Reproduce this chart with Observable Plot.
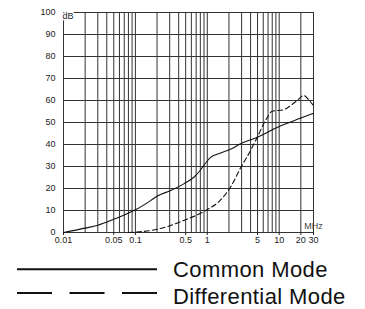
<!DOCTYPE html>
<html>
<head>
<meta charset="utf-8">
<script src="https://cdn.jsdelivr.net/npm/d3@7"></script>
<script src="https://cdn.jsdelivr.net/npm/@observablehq/plot@0.6"></script>
<style>
  html, body { margin: 0; padding: 0; background: #fff; }
  #wrap { position: relative; width: 365px; height: 309px; overflow: hidden; }
  #chart { position: absolute; left: 0; top: 0; }
  .leg { position: absolute; left: 0; top: 255px; width: 365px; height: 54px; }
  .legtext { position: absolute; left: 173px; font-family: "Liberation Sans", Arial, sans-serif; font-size: 22px; letter-spacing: 0.4px; color: #111; white-space: nowrap; line-height: 1; }
</style>
</head>
<body>
<div id="wrap">
  <div id="chart"></div>
  <svg class="leg" width="365" height="54" viewBox="0 0 365 54">
    <line x1="17" x2="157" y1="14.3" y2="14.3" stroke="#111" stroke-width="2"></line>
    <line x1="17" x2="157" y1="38" y2="38" stroke="#111" stroke-width="2" stroke-dasharray="35,17.5"></line>
  </svg>
  <div class="legtext" id="l1" style="top:259px">Common Mode</div>
  <div class="legtext" id="l2" style="top:286px">Differential Mode</div>
</div>
<script>
// Frequencies (MHz) and attenuation (dB)
const commonFreq = [0.01, 0.02, 0.03, 0.05, 0.07, 0.1, 0.163, 0.2, 0.31, 0.47, 0.65, 0.8, 0.95, 1.1, 1.5, 2.1, 2.9, 5, 10, 20, 30];
const commonDb   = [0, 2, 3.3, 6, 8, 10.3, 14.5, 16.5, 19.1, 22.1, 25.1, 28.3, 31.6, 34, 36, 37.8, 40.3, 43.3, 48.2, 52, 54.2];

const diffFreq = [0.08, 0.1, 0.163, 0.31, 0.47, 0.95, 1.5, 2.1, 2.9, 4, 4.95, 6.45, 8, 11.6, 14.4, 17.8, 22, 25, 28.7, 30];
const diffDb   = [0, 0.2, 0.9, 3.2, 5.5, 10, 14.5, 20.6, 29.3, 37.3, 43.3, 50.9, 55.1, 55.8, 57.7, 60, 62.3, 60.8, 58.5, 57.8];

const xTickValues = [0.01, 0.05, 0.1, 0.5, 1, 5, 10, 20, 30];
const xTickLabels = ["0.01", "0.05", "0.1", "0.5", "1", "5", "10", "20", "30"];
const yTickValues = [0, 10, 20, 30, 40, 50, 60, 70, 80, 90, 100];
const gridX = [0.02, 0.03, 0.04, 0.05, 0.06, 0.07, 0.08, 0.09, 0.1,
               0.2, 0.3, 0.4, 0.5, 0.6, 0.7, 0.8, 0.9, 1,
               2, 3, 4, 5, 6, 7, 8, 9, 10, 20];
const gridY = [10, 20, 30, 40, 50, 60, 70, 80, 90];

const chart = Plot.plot({
  width: 365,
  height: 252,
  marginLeft: 63,
  marginRight: 52,
  marginTop: 12,
  marginBottom: 20,
  style: { fontFamily: "Liberation Sans, Arial, sans-serif", fontSize: "9px", color: "#222", background: "white" },
  x: { type: "log", domain: [0.01, 30] },
  y: { domain: [0, 100] },
  marks: [
    Plot.ruleX(gridX, { stroke: "#333", strokeWidth: 1 }),
    Plot.ruleY(gridY, { stroke: "#333", strokeWidth: 1 }),
    Plot.frame({ stroke: "#333", strokeWidth: 1 }),
    Plot.axisX({ ticks: xTickValues, tickSize: 3, tickFormat: () => "", label: null }),
    Plot.text(xTickValues, { x: d => d, text: (d, i) => xTickLabels[i], frameAnchor: "bottom", lineAnchor: "top", dy: 4, fill: "#222", fontSize: 9 }),
    Plot.axisY({ ticks: yTickValues, tickSize: 0, tickPadding: 8, fill: "#222", label: null }),
    Plot.line(commonDb, { x: commonFreq, y: commonDb, curve: "monotone-x", stroke: "#111", strokeWidth: 1.1 }),
    Plot.line(diffDb, { x: diffFreq, y: diffDb, curve: "monotone-x", stroke: "#111", strokeWidth: 1.1, strokeDasharray: "5,3" }),
    Plot.text(["dB"], { frameAnchor: "top-left", textAnchor: "start", dx: -1, fill: "#222", stroke: "white", strokeWidth: 3, fontSize: 9 }),
    Plot.text(["MHz"], { frameAnchor: "bottom-right", textAnchor: "middle", dy: -4, fill: "#444", fontSize: 9 })
  ]
});
document.getElementById("chart").appendChild(chart);
</script>
</body>
</html>
